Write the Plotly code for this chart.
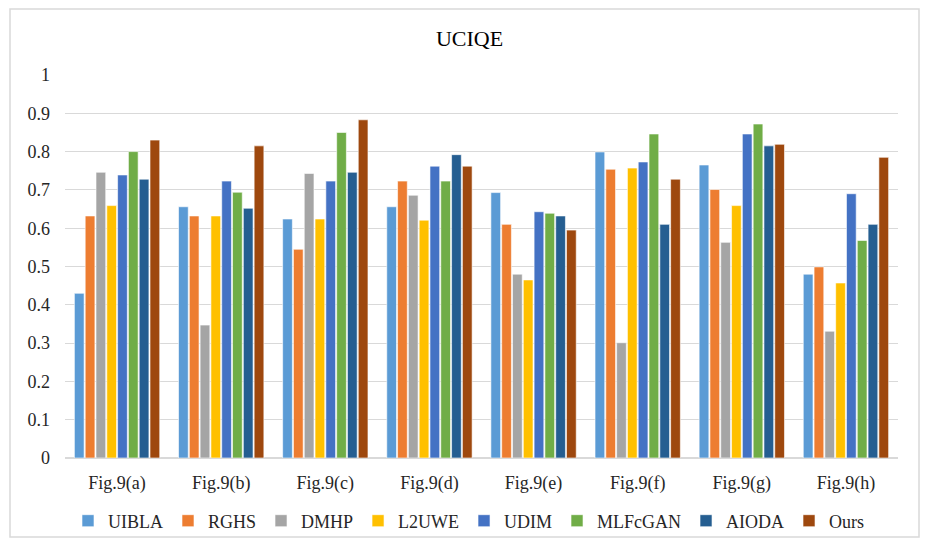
import plotly.graph_objects as go

categories = ["Fig.9(a)", "Fig.9(b)", "Fig.9(c)", "Fig.9(d)", "Fig.9(e)", "Fig.9(f)", "Fig.9(g)", "Fig.9(h)"]

UIBLA = [0.430, 0.656, 0.624, 0.656, 0.693, 0.799, 0.765, 0.480]
RGHS = [0.632, 0.632, 0.545, 0.723, 0.610, 0.754, 0.701, 0.499]
DMHP = [0.746, 0.347, 0.743, 0.686, 0.480, 0.301, 0.563, 0.331]
L2UWE = [0.659, 0.632, 0.624, 0.621, 0.465, 0.757, 0.659, 0.457]
UDIM = [0.739, 0.723, 0.723, 0.762, 0.643, 0.773, 0.846, 0.690]
MLFcGAN = [0.800, 0.694, 0.850, 0.723, 0.639, 0.846, 0.872, 0.568]
AIODA = [0.728, 0.652, 0.746, 0.792, 0.632, 0.610, 0.815, 0.610]
Ours = [0.830, 0.815, 0.883, 0.762, 0.595, 0.728, 0.819, 0.785]

series = [
    ("UIBLA", UIBLA, "#5B9BD5"),
    ("RGHS", RGHS, "#ED7D31"),
    ("DMHP", DMHP, "#A5A5A5"),
    ("L2UWE", L2UWE, "#FFC000"),
    ("UDIM", UDIM, "#4472C4"),
    ("MLFcGAN", MLFcGAN, "#70AD47"),
    ("AIODA", AIODA, "#255E91"),
    ("Ours", Ours, "#9E480E"),
]

fig = go.Figure()
for name, vals, color in series:
    fig.add_trace(go.Bar(
        x=categories, y=vals, name=name,
        marker=dict(color=color, line=dict(color="white", width=0.6)),
    ))

# page body has an 8px margin; the figure is offset by it
OFF = 8
W, H = 931 - OFF, 544 - OFF
L, R, T, B = 65 - OFF, 33, 75 - OFF, 86
pw, ph = W - L - R, H - T - B

def px_x(p):  # screen pixel -> paper x
    return (p - OFF - L) / pw

def px_y(p):  # screen pixel -> paper y
    return (H - B - (p - OFF)) / ph

SERIF = "Liberation Serif"

fig.update_layout(
    width=W, height=H,
    margin=dict(l=L, r=R, t=T, b=B, autoexpand=False),
    paper_bgcolor="white", plot_bgcolor="white",
    font=dict(family=SERIF, size=17, color="#262626"),
    title=dict(text="UCIQE", x=0.5, xanchor="center", y=1 - (38 - OFF) / H, yanchor="middle",
               font=dict(family=SERIF, size=22, color="#000000")),
    barmode="group", bargap=0.17, bargroupgap=0.1,
    showlegend=True,
    legend=dict(orientation="h", x=px_x(469), xanchor="center", yref="container",
                y=1 - (521 - OFF) / H, yanchor="middle", itemwidth=30,
                font=dict(family=SERIF, size=18, color="#262626"), tracegroupgap=0,
                bgcolor="rgba(0,0,0,0)"),
    xaxis=dict(showgrid=False, showline=True, linecolor="#d9d9d9", linewidth=1,
               ticks="", automargin=False, ticklabelstandoff=8,
               tickfont=dict(family=SERIF, size=18, color="#262626")),
    yaxis=dict(range=[0, 1], dtick=0.1, tickformat="~g", showgrid=True, gridcolor="#d9d9d9",
               gridwidth=1, zeroline=True, zerolinecolor="#d9d9d9", showline=False,
               ticks="", ticklabelstandoff=14, automargin=False,
               tickfont=dict(family=SERIF, size=18, color="#262626")),
    shapes=[dict(type="rect", xref="paper", yref="paper",
                 x0=px_x(10), x1=px_x(919), y0=px_y(537), y1=px_y(9),
                 line=dict(color="#d9d9d9", width=1.5), fillcolor="rgba(0,0,0,0)", layer="below")],
)

fig.write_html("out.html")
